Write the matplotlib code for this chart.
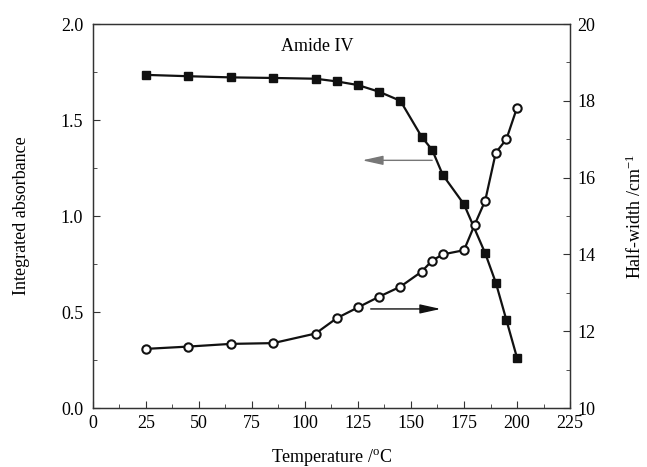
import numpy as np
import matplotlib.pyplot as plt
from matplotlib.ticker import MultipleLocator

plt.rcParams['font.family'] = ['Liberation Serif', 'DejaVu Serif']
plt.rcParams['mathtext.fontset'] = 'custom'
plt.rcParams['mathtext.rm'] = 'Liberation Serif'
plt.rcParams['mathtext.it'] = 'Liberation Serif:italic'

# integrated absorbance (left axis), filled squares
t_abs = [25, 45, 65, 85, 105, 115, 125, 135, 145, 155, 160, 165, 175, 185, 190, 195, 200]
absorbance = [1.735, 1.728, 1.722, 1.719, 1.715, 1.701, 1.682, 1.647, 1.600,
              1.413, 1.344, 1.214, 1.061, 0.806, 0.653, 0.458, 0.262]

# half-width (right axis), open circles
t_hw = [25, 45, 65, 85, 105, 115, 125, 135, 145, 155, 160, 165, 175, 180, 185, 190, 195, 200]
half_width = [11.54, 11.60, 11.67, 11.69, 11.94, 12.34, 12.62, 12.90, 13.16,
              13.55, 13.84, 14.00, 14.11, 14.77, 15.40, 16.65, 17.00, 17.82]

fig = plt.figure(figsize=(6.47, 4.67), dpi=100)
ax = fig.add_axes([0.1437, 0.1263, 0.7373, 0.8223])
ax2 = ax.twinx()

ax.plot(t_abs, absorbance, color='#111111', lw=1.6, marker='s', markersize=6,
        markerfacecolor='#111111', markeredgecolor='#111111', zorder=3)
ax2.plot(t_hw, half_width, color='#111111', lw=1.6, marker='o', markersize=6,
         markerfacecolor='white', markeredgecolor='#111111', markeredgewidth=1.5, zorder=4)

ax.set_xlim(0, 225)
ax.set_ylim(0, 2.0)
ax2.set_ylim(10, 20)

ax.xaxis.set_major_locator(MultipleLocator(25))
ax.xaxis.set_minor_locator(MultipleLocator(12.5))
ax.yaxis.set_major_locator(MultipleLocator(0.5))
ax.yaxis.set_minor_locator(MultipleLocator(0.25))
ax.yaxis.set_major_formatter(plt.FormatStrFormatter('%.1f'))
ax2.yaxis.set_major_locator(MultipleLocator(2))
ax2.yaxis.set_minor_locator(MultipleLocator(1))

ax.tick_params(axis='both', which='both', direction='in', top=False, right=False,
               labelsize=13, color='#333333')
ax.tick_params(axis='both', which='major', length=5)
ax.tick_params(axis='both', which='minor', length=3)
ax.tick_params(axis='x', pad=5)
ax.tick_params(axis='y', pad=7)
ax2.tick_params(axis='y', which='both', direction='in', labelsize=13, pad=5, color='#333333')
ax2.tick_params(axis='y', which='major', length=5)
ax2.tick_params(axis='y', which='minor', length=3)

for a in (ax, ax2):
    for s in a.spines.values():
        s.set_linewidth(0.9)
        s.set_color('#333333')

ax.set_xlabel('Temperature /$^\\mathrm{o}$C', fontsize=13, labelpad=11)
ax.set_ylabel('Integrated absorbance', fontsize=13, labelpad=22)
ax2.set_ylabel('Half-width /cm$^{-1}$', fontsize=13, labelpad=22)

ax.text(106, 1.885, 'Amide IV', fontsize=13, ha='center', va='center')

ax.annotate('', xy=(127, 1.29), xytext=(160, 1.29),
            arrowprops=dict(arrowstyle='-|>,head_length=0.9,head_width=0.2',
                            color='#777777', lw=1.0,
                            mutation_scale=14, shrinkA=0, shrinkB=0))
ax.annotate('', xy=(164, 0.516), xytext=(131, 0.516),
            arrowprops=dict(arrowstyle='-|>,head_length=0.9,head_width=0.2',
                            color='#111111', lw=1.0,
                            mutation_scale=14, shrinkA=0, shrinkB=0))

fig.savefig('out.png', dpi=100)
